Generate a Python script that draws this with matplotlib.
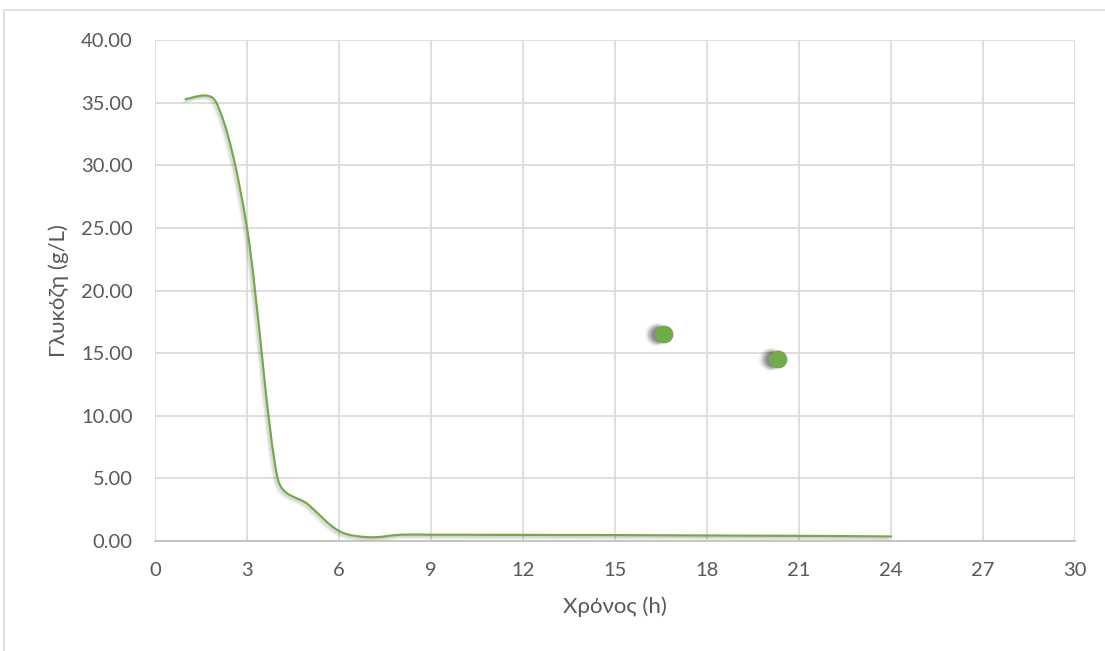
import matplotlib
matplotlib.use("Agg")
import matplotlib.pyplot as plt
from matplotlib.path import Path
from matplotlib.patches import PathPatch, Rectangle
import matplotlib.transforms as mtransforms
import numpy as np

# Data
time_h = [1, 2, 3, 4, 5, 6, 7, 8, 9, 10, 11, 12, 13, 14, 15, 16, 17, 18, 19, 20, 21, 22, 23, 24]
glucose = [35.3, 35.0, 25.0, 5.0, 2.9, 0.8, 0.3, 0.5, 0.5, 0.5, 0.49, 0.49, 0.48, 0.48, 0.47,
           0.46, 0.45, 0.44, 0.43, 0.42, 0.41, 0.40, 0.38, 0.36]
extra_time = [16.6, 20.3]
extra_glucose = [16.5, 14.5]

x_ticks = [0, 3, 6, 9, 12, 15, 18, 21, 24, 27, 30]
y_ticks = [0, 5, 10, 15, 20, 25, 30, 35, 40]

GREEN = "#70AD47"
GRID = "#D9D9D9"
TEXT = "#595959"
FONT = ["Lato", "DejaVu Sans"]

fig = plt.figure(figsize=(11.05, 6.51), dpi=100)
ax = fig.add_axes([155 / 1105, 1 - 541 / 651, (1075 - 155) / 1105, (541 - 40) / 651])
ax.set_xlim(0, 30)
ax.set_ylim(0, 40)

# outer chart border
fig.patches.append(Rectangle((4 / 1105, -0.2), 1.2, 1.2 - 10 / 651,
                             transform=fig.transFigure, fill=False,
                             edgecolor=GRID, linewidth=1.2))

# smoothed line: Catmull-Rom Bezier, control arms capped by adjacent segment length
data_pts = np.column_stack([time_h, glucose]).astype(float)
pts = ax.transData.transform(data_pts)
n = len(pts)
CAP = 0.5


def arm(i, j):
    """control-arm vector at point i pointing toward neighbour j (display space)"""
    a = pts[i - 1] if i > 0 else pts[i]
    b = pts[i + 1] if i + 1 < n else pts[i]
    v = (b - a) / 6.0
    if j < i:
        v = -v
    seg = np.linalg.norm(pts[j] - pts[i])
    L = np.linalg.norm(v)
    if L > CAP * seg:
        v = v * (CAP * seg / L)
    return v


disp = [pts[0]]
codes = [Path.MOVETO]
for i in range(n - 1):
    c1 = pts[i] + arm(i, i + 1)
    c2 = pts[i + 1] + arm(i + 1, i)
    disp += [c1, c2, pts[i + 1]]
    codes += [Path.CURVE4] * 3
verts = ax.transData.inverted().transform(np.array(disp))
path = Path(verts, codes)

# faint shadow of line
for dx, a in [(3, 0.04), (2, 0.06), (1, 0.07)]:
    tr = ax.transData + mtransforms.ScaledTranslation(-dx / 100, -dx / 100, fig.dpi_scale_trans)
    ax.add_patch(PathPatch(path, facecolor="none", edgecolor="black", lw=2.5, alpha=a,
                           transform=tr, zorder=2))
ax.add_patch(PathPatch(path, facecolor="none", edgecolor=GREEN, lw=1.6, zorder=3,
                       capstyle="round"))

# scatter points with soft shadow
for dx, s, a in [(8, 280, 0.06), (7, 230, 0.08), (7, 190, 0.10), (6, 155, 0.14), (5, 125, 0.18)]:
    tr = ax.transData + mtransforms.ScaledTranslation(-dx / 100, 0, fig.dpi_scale_trans)
    ax.scatter(extra_time, extra_glucose, s=s, color="black", alpha=a, lw=0,
               transform=tr, zorder=4)
ax.scatter(extra_time, extra_glucose, s=165, color=GREEN, lw=0, zorder=5)

ax.set_xticks(x_ticks)
ax.set_yticks(y_ticks)
ax.set_xticklabels([str(t) for t in x_ticks])
ax.set_yticklabels([f"{t:.2f}" for t in y_ticks])
ax.grid(True, color=GRID, linewidth=1.2)
ax.set_axisbelow(True)
for sp in ["top", "right", "left"]:
    ax.spines[sp].set_visible(False)
ax.spines["bottom"].set_color("#BFBFBF")
ax.spines["bottom"].set_linewidth(1.2)
ax.tick_params(axis="y", length=0, pad=16, labelcolor=TEXT, labelsize=14.5)
ax.tick_params(axis="x", length=0, pad=15, labelcolor=TEXT, labelsize=14.5)
for lbl in ax.get_xticklabels() + ax.get_yticklabels():
    lbl.set_family(FONT)

ax.set_xlabel("Χρόνος (h)", fontsize=16, color=TEXT, family=FONT)
ax.set_ylabel("Γλυκόζη (g/L)", fontsize=16, color=TEXT, family=FONT)
ax.xaxis.set_label_coords(0.5, (541 - 596) / 501)
ax.yaxis.set_label_coords((69 - 155) / 920, 0.5)

fig.savefig("out.png", dpi=100)
